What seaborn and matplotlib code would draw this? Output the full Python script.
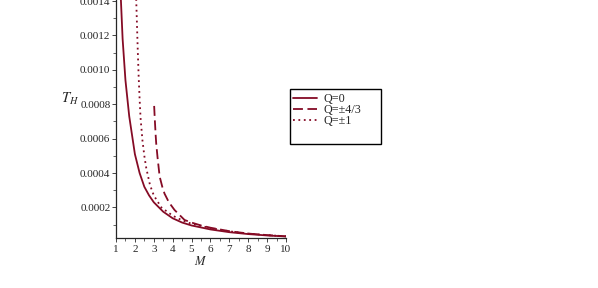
import numpy as np
import pandas as pd
import matplotlib
matplotlib.use("Agg")
import matplotlib.pyplot as plt
import seaborn as sns
from matplotlib.patches import Rectangle
from matplotlib.ticker import MultipleLocator, FormatStrFormatter

# === Données ===
m_q0 = [1.25, 1.35, 1.5, 1.7, 2.0, 2.25, 2.5, 2.75, 3.0, 3.5, 4.0, 4.5, 5.0, 6.0, 7.0, 8.0, 9.0, 10.0]
t_q0 = [0.00143, 0.00118, 0.00094, 0.00073, 0.00051, 0.00040, 0.00032, 0.00027, 0.00023,
        0.000175, 0.000137, 0.000112, 0.000095, 0.000072, 0.000056, 0.000045, 0.000037, 0.000031]

m_q43 = [3.02, 3.05, 3.1, 3.13, 3.2, 3.31, 3.45, 3.57, 3.8, 4.1, 4.63, 5.0, 5.5, 6.0, 7.0, 8.0, 9.0, 10.0]
t_q43 = [0.00079, 0.00072, 0.00062, 0.00057, 0.00049, 0.00038, 0.00032, 0.00028, 0.00023,
         0.000185, 0.000127, 0.000112, 0.000095, 0.000082, 0.000062, 0.000048, 0.000039, 0.000032]

m_q1 = [2.05, 2.1, 2.15, 2.2, 2.25, 2.3, 2.4, 2.5, 2.6, 2.8, 3.0, 3.4, 4.0, 4.5, 5.0, 6.0, 7.0, 8.0, 9.0, 10.0]
t_q1 = [0.00148, 0.00130, 0.00112, 0.00096, 0.00083, 0.00072, 0.00059, 0.00050, 0.00043, 0.00033,
        0.00027, 0.00020, 0.000152, 0.000125, 0.000105, 0.00008, 0.000061, 0.000048, 0.000039, 0.000032]

labels = ["Q=0", "Q=\u00b14/3", "Q=\u00b11"]
yticks = [0.0002, 0.0004, 0.0006, 0.0008, 0.0010, 0.0012, 0.0014]

couleur = "#850b25"

# === Style ===
sns.set_style("ticks")
plt.rcParams["font.family"] = ["Liberation Serif", "DejaVu Serif"]
plt.rcParams["mathtext.fontset"] = "stix"

fig = plt.figure(figsize=(5.98, 2.88), dpi=100)
ax = fig.add_axes([116 / 598, 50 / 288, 170 / 598, 238 / 288])

sns.lineplot(x=m_q0, y=t_q0, ax=ax, color=couleur, linewidth=1.3, sort=False, label=labels[0])
sns.lineplot(x=m_q43, y=t_q43, ax=ax, color=couleur, linewidth=1.3, sort=False, label=labels[1])
sns.lineplot(x=m_q1, y=t_q1, ax=ax, color=couleur, linewidth=1.3, sort=False, label=labels[2])

lines = ax.get_lines()
lines[1].set_dashes([5.5, 2.5])
lines[2].set_linestyle((0, (1, 2.0)))

ax.set_xlim(1, 10)
ax.set_ylim(0.0000222, 0.001406)
ax.xaxis.set_major_locator(MultipleLocator(1))
ax.xaxis.set_minor_locator(MultipleLocator(0.5))
ax.yaxis.set_minor_locator(MultipleLocator(0.0001))
ax.set_yticks(yticks)
ax.yaxis.set_major_formatter(FormatStrFormatter("%.4f"))

ax.tick_params(axis="both", which="major", labelsize=8, length=3, width=0.6, pad=1)
ax.tick_params(axis="x", which="major", pad=2)
ax.tick_params(axis="both", which="minor", length=2, width=0.5)
sns.despine(ax=ax)
for s in ["left", "bottom"]:
    ax.spines[s].set_linewidth(0.9)

ax.set_xlabel("$M$", fontsize=9, labelpad=1)
ax.set_ylabel("$T_H$", fontsize=10.5, rotation=0, va="center", ha="center")
ax.yaxis.set_label_coords(-0.27, 0.584)

# === Légende ===
ax.legend_.remove()
handles, labs = ax.get_legend_handles_labels()
fig.legend(handles, labs, loc="upper left", bbox_to_anchor=(293 / 598, 1 - 93 / 288),
           frameon=False, fontsize=8.7, handlelength=2.0, handletextpad=0.5,
           borderpad=0, labelspacing=-0.08, borderaxespad=0)
fig.patches.append(Rectangle((290 / 598, 1 - 144 / 288), 91 / 598, 55 / 288,
                             transform=fig.transFigure, fill=False,
                             edgecolor="black", linewidth=1.0))

fig.savefig("out.png", dpi=100)
plt.close(fig)
